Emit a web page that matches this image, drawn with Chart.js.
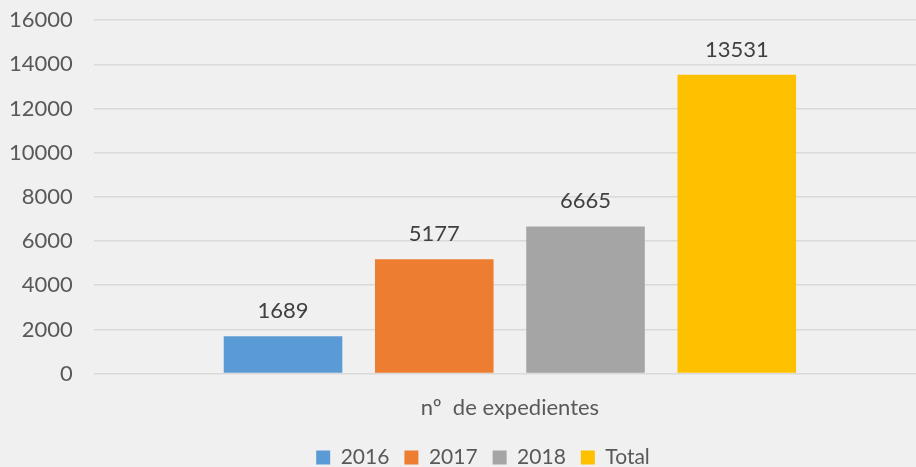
<!DOCTYPE html>
<html>
<head>
<meta charset="utf-8">
<script src="https://cdn.jsdelivr.net/npm/chart.js@4"></script>
<style>
  html, body { margin: 0; padding: 0; background: #f0f0f0; overflow: hidden; }
  #wrap { width: 948px; height: 492px; margin-top: -14px; margin-left: -22px; }
</style>
</head>
<body>
<div id="wrap"><canvas id="chart" width="948" height="492"></canvas></div>
<script>
// ---------- Data ----------
const categories = ["nº  de expedientes"];
const seriesNames = ["2016", "2017", "2018", "Total"];
const seriesValues = [[1689], [5177], [6665], [13531]];
const seriesColors = ["#5b9bd5", "#ed7d31", "#a5a5a5", "#ffc000"];
const yTicks = [0, 2000, 4000, 6000, 8000, 10000, 12000, 14000, 16000];

const FONT = "Lato, 'Open Sans', sans-serif";
const FS = 22;

// value labels above the bars
const barLabels = {
  id: "barLabels",
  afterDatasetsDraw(chart) {
    const ctx = chart.ctx;
    ctx.save();
    ctx.font = FS + "px " + FONT;
    ctx.fillStyle = "#404040";
    ctx.textAlign = "center";
    ctx.textBaseline = "middle";
    chart.data.datasets.forEach((ds, i) => {
      chart.getDatasetMeta(i).data.forEach((bar, j) => {
        ctx.fillText(ds.data[j], bar.x, bar.y - 25);
      });
    });
    ctx.restore();
  }
};

// nudge the legend a bit to the right, like the original
const legendShift = {
  id: "legendShift",
  afterLayout(chart) {
    chart.legend.left += 26;
    chart.legend.right += 26;
  }
};

new Chart(document.getElementById("chart"), {
  type: "bar",
  data: {
    labels: categories,
    datasets: seriesNames.map((name, i) => ({
      label: name,
      data: seriesValues[i],
      backgroundColor: seriesColors[i],
      barPercentage: 0.784,
      categoryPercentage: 0.727
    }))
  },
  options: {
    responsive: false,
    animation: false,
    layout: { padding: { top: 0, left: 10, right: 0, bottom: 0 } },
    plugins: {
      legend: {
        position: "bottom",
        labels: {
          boxWidth: 14,
          boxHeight: 14,
          padding: 15,
          color: "#595959",
          font: { family: FONT, size: 21 }
        }
      },
      tooltip: { enabled: false }
    },
    scales: {
      x: {
        grid: { display: false, drawTicks: false },
        border: { display: false },
        ticks: { display: false },
        title: {
          display: true,
          text: categories[0],
          color: "#595959",
          font: { family: FONT, size: FS },
          padding: { top: 21, bottom: 11 }
        }
      },
      y: {
        min: 0,
        max: 16000,
        afterBuildTicks: axis => { axis.ticks = yTicks.map(v => ({ value: v })); },
        grid: { color: "#d9d9d9", lineWidth: 1.5, drawTicks: false },
        border: { display: false },
        ticks: {
          color: "#595959",
          font: { family: FONT, size: FS },
          padding: 21,
          callback: v => String(v)
        }
      }
    }
  },
  plugins: [barLabels, legendShift]
});
</script>
</body>
</html>
